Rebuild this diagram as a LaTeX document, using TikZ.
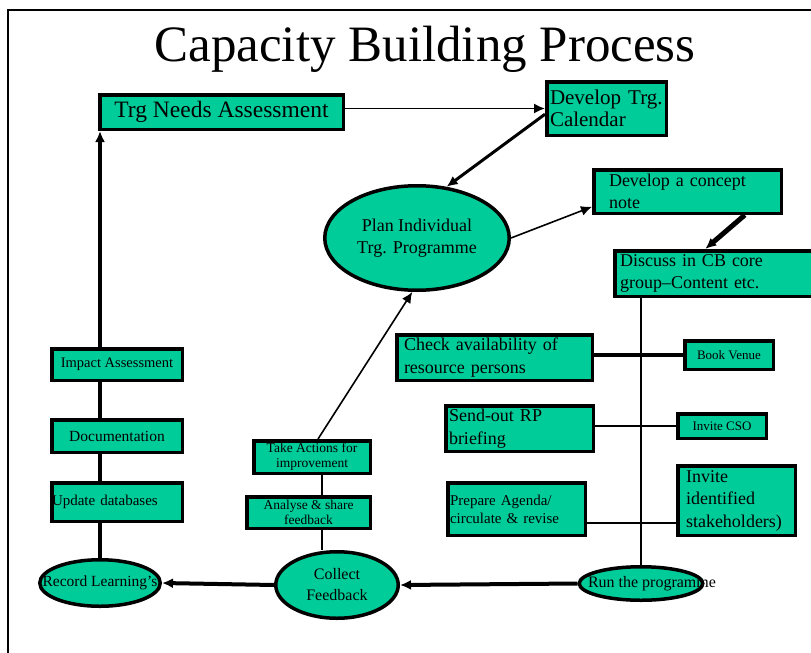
\documentclass[tikz,border=0pt]{standalone}
\usepackage{fontspec}
\setmainfont{Liberation Serif}
\usetikzlibrary{positioning,calc,arrows.meta,shapes.geometric,backgrounds}
\definecolor{cbgreen}{RGB}{0,204,153}

\begin{document}
\begin{tikzpicture}[x=1pt, y=-1pt,
    cbbox/.style={draw, fill=cbgreen, line width=3.5pt, rectangle, inner ysep=2pt},
    cboval/.style={draw, fill=cbgreen, line width=3.5pt, ellipse, inner sep=0pt, align=center},
    thinline/.style={line width=1.6pt},
    thickline/.style={line width=4pt},
    tip/.style={-{Latex[length=11pt,width=10pt]}}]
  \useasboundingbox (0,0) rectangle (811,653);

  % Frame and title
  \draw[line width=1.3pt] (8,670) -- (8,10) -- (830,10);
  \node[anchor=base, font=\fontsize{51}{55}\selectfont] (title) at (425,61) {Capacity Building Process};

  % Planning
  \node[cbbox, minimum width=243.5, minimum height=34.5, font=\fontsize{23.5}{25}\selectfont] (tna) at (221.5,112) {Trg Needs Assessment};
  \node[cbbox, inner xsep=3.25, text width=113, align=left, minimum height=53.5, font=\fontsize{21}{21.5}\selectfont] (cal) at (606.5,108.5) {Develop Trg.\\Calendar};
  \node[cboval, minimum width=184.5, minimum height=104.5, font=\fontsize{18}{22}\selectfont] (plan) at (417,238) {Plan Individual\\Trg. Programme};
  \node[cbbox, inner xsep=15.25, text width=157, align=left, minimum height=43.5, font=\fontsize{18}{22.5}\selectfont] (concept) at (687.5,191.5) {Develop a concept\\note};
  \node[cbbox, inner xsep=5.25, text width=203, align=left, minimum height=45.5, font=\fontsize{18}{22.5}\selectfont] (discuss) at (721.5,273.5) {Discuss in CB core\\group--Content etc.};

  % Preparation
  \node[cbbox, inner xsep=7.25, text width=181, align=left, minimum height=45.5, font=\fontsize{18}{22.5}\selectfont] (check) at (494.5,357.5) {Check availability of\\resource persons};
  \node[cbbox, minimum width=88.5, minimum height=28.5, font=\fontsize{13}{15}\selectfont] (venue) at (729,355) {Book Venue};
  \node[cbbox, inner xsep=3.25, text width=141, align=left, minimum height=45.5, font=\fontsize{18}{22.5}\selectfont] (rp) at (519.5,428.5) {Send-out RP\\briefing};
  \node[cbbox, minimum width=88.5, minimum height=24.5, font=\fontsize{13}{15}\selectfont] (cso) at (722,426) {Invite CSO};
  \node[cbbox, inner xsep=2.25, text width=133, align=left, minimum height=52.5, font=\fontsize{15}{18}\selectfont] (agenda) at (516.5,509) {Prepare Agenda/\\circulate \& revise};
  \node[cbbox, inner xsep=8.25, text width=101, align=left, minimum height=69.5, font=\fontsize{18}{22.5}\selectfont] (stake) at (736.5,500.5) {Invite\\identified\\stakeholders)};
  \node[cboval, minimum width=123.5, minimum height=33.5, font=\fontsize{16}{18}\selectfont] (run) at (641,583.5) {\makebox[0pt]{\hspace*{22pt}Run the programme}};

  % Feedback and learning
  \node[cboval, minimum width=122.5, minimum height=66.5, font=\fontsize{16}{21}\selectfont] (collect) at (337,585) {Collect\\Feedback};
  \node[cbbox, minimum width=123.5, minimum height=31.5, align=center, font=\fontsize{13.5}{15}\selectfont] (analyse) at (308.5,512.5) {Analyse \& share\\feedback};
  \node[cbbox, minimum width=116.5, minimum height=32.5, align=center, font=\fontsize{13.5}{15}\selectfont] (take) at (312,457) {Take Actions for\\improvement};
  \node[cboval, minimum width=120.5, minimum height=46.5, font=\fontsize{15.5}{18}\selectfont] (rec) at (100,583) {\makebox[0pt]{Record Learning's}};
  \node[cbbox, inner xsep=0.25, text width=130, align=left, minimum height=38.5, font=\fontsize{15}{17}\selectfont] (upd) at (117,502) {Update databases};
  \node[cbbox, minimum width=130.5, minimum height=32.5, font=\fontsize{15.5}{17}\selectfont] (doc) at (117,436) {Documentation};
  \node[cbbox, minimum width=130.5, minimum height=31.5, font=\fontsize{14.5}{16}\selectfont] (impact) at (117,364.5) {Impact Assessment};

  % Planning arrows
  \draw[thinline, tip] (cal.west -| tna.east) -- (cal.west);
  \draw[line width=3pt, tip] ($(cal.west)!0.2!(cal.south west)$) -- (plan.60);
  \draw[thinline, tip] (plan.east) -- ($(concept.west)!0.65!(concept.south west)$);
  \draw[line width=5pt, tip] ($(concept.south)!0.6!(concept.south east)$) -- ($(discuss.north west)!0.85!(discuss.north)$);

  % Preparation links
  \draw[thinline] (discuss.south -| run.north) -- (run.north);
  \draw[thickline] (venue.west -| check.east) -- (venue.west);
  \draw[thinline] (cso.west -| rp.east) -- (cso.west);
  \coordinate (agendaout) at ($(agenda.east)!0.5!(agenda.south east)$);
  \draw[thinline] (agendaout) -- (agendaout -| stake.west);

  % Feedback loop
  \draw[thickline, tip] (run.west) -- (collect.east);
  \draw[thickline, tip] (collect.west) -- (rec.east);
  \coordinate (fbline) at ($(take.south)!0.17!(take.south east)$);
  \draw[thinline] (fbline) -- (fbline |- analyse.north);
  \draw[thinline] (fbline |- analyse.south) -- (fbline |- collect.north);
  \draw[thinline, tip] ($(take.north)!0.1!(take.north east)$) -- (plan.265);
  \begin{scope}[on background layer]
    \draw[thickline, tip] (rec.north) -- (rec.north |- tna.south);
  \end{scope}
\end{tikzpicture}
\end{document}
